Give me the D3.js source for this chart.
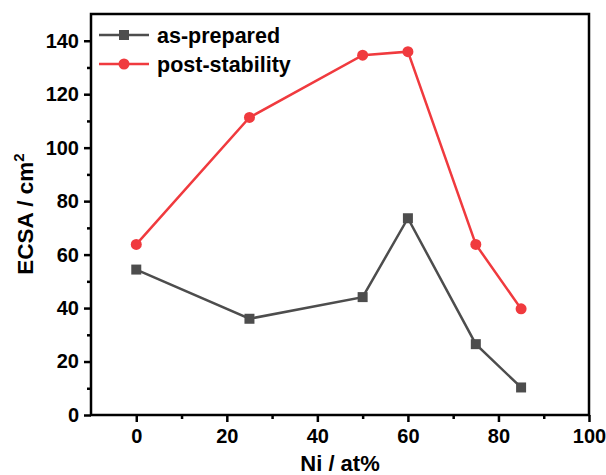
<!DOCTYPE html>
<html>
<head>
<meta charset="utf-8">
<script src="https://cdn.jsdelivr.net/npm/d3@7"></script>
<style>
  body { margin: 0; background: #fff; }
  svg { display: block; font-family: "Liberation Sans", Arial, sans-serif; font-weight: bold; }
</style>
</head>
<body>
<div id="chart"></div>
<script>
// --- data ---
const niContent = [0, 25, 50, 60, 75, 85];
const asPrepared = [54.4, 36.0, 44.1, 73.6, 26.5, 10.3];
const postStability = [63.8, 111.3, 134.6, 135.9, 63.8, 39.7];
const xTicks = [0, 20, 40, 60, 80, 100];
const yTicks = [0, 20, 40, 60, 80, 100, 120, 140];

const W = 606, H = 475;
const margin = { top: 14, right: 17, bottom: 60, left: 91 };
const width = W - margin.left - margin.right;
const height = H - margin.top - margin.bottom;

const svg = d3.select("#chart").append("svg")
  .attr("width", W).attr("height", H);
const g = svg.append("g")
  .attr("transform", "translate(" + margin.left + "," + margin.top + ")");

const x = d3.scaleLinear().domain([-10, 100]).range([0, width]);
const y = d3.scaleLinear().domain([0, 150]).range([height, 0]);

// minor ticks first, major on top
g.append("g")
  .attr("transform", "translate(0," + height + ")")
  .call(d3.axisBottom(x).tickValues(d3.range(10, 100, 20)).tickSize(4).tickFormat(""))
  .call(a => a.select(".domain").remove())
  .selectAll("line").attr("stroke-width", 2.5);
g.append("g")
  .call(d3.axisLeft(y).tickValues(d3.range(10, 150, 20)).tickSize(4).tickFormat(""))
  .call(a => a.select(".domain").remove())
  .selectAll("line").attr("stroke-width", 2.5);

const xAxis = g.append("g")
  .attr("transform", "translate(0," + height + ")")
  .call(d3.axisBottom(x).tickValues(xTicks).tickSize(7).tickPadding(7));
xAxis.select(".domain").remove();
xAxis.selectAll("line").attr("stroke-width", 2.5);
xAxis.selectAll("text").attr("font-size", 20).attr("font-family", "Liberation Sans, Arial, sans-serif").attr("font-weight", "bold").attr("fill", "#000");

const yAxis = g.append("g")
  .call(d3.axisLeft(y).tickValues(yTicks).tickSize(7).tickPadding(5));
yAxis.select(".domain").remove();
yAxis.selectAll("line").attr("stroke-width", 2.5);
yAxis.selectAll("text").attr("font-size", 20).attr("font-family", "Liberation Sans, Arial, sans-serif").attr("font-weight", "bold").attr("fill", "#000");

// frame
g.append("rect")
  .attr("x", 0).attr("y", 0).attr("width", width).attr("height", height)
  .attr("fill", "none").attr("stroke", "#000").attr("stroke-width", 2.5);

const series = [
  { name: "as-prepared", values: asPrepared, color: "#4d4d4d", shape: "square" },
  { name: "post-stability", values: postStability, color: "#f03a3e", shape: "circle" }
];

const line = d3.line().x(d => x(d[0])).y(d => y(d[1]));

series.forEach(s => {
  const pts = niContent.map((n, i) => [n, s.values[i]]);
  g.append("path").datum(pts)
    .attr("fill", "none").attr("stroke", s.color).attr("stroke-width", 2.5)
    .attr("d", line);
  if (s.shape === "square") {
    g.selectAll(null).data(pts).enter().append("rect")
      .attr("x", d => x(d[0]) - 5).attr("y", d => y(d[1]) - 5)
      .attr("width", 10).attr("height", 10).attr("fill", s.color);
  } else {
    g.selectAll(null).data(pts).enter().append("circle")
      .attr("cx", d => x(d[0])).attr("cy", d => y(d[1])).attr("r", 5.5)
      .attr("fill", s.color);
  }
});

// legend
const legend = svg.append("g");
series.forEach((s, i) => {
  const ly = 35 + i * 29;
  legend.append("line")
    .attr("x1", 99).attr("x2", 149).attr("y1", ly).attr("y2", ly)
    .attr("stroke", s.color).attr("stroke-width", 2.5);
  if (s.shape === "square") {
    legend.append("rect").attr("x", 119).attr("y", ly - 5).attr("width", 10).attr("height", 10).attr("fill", s.color);
  } else {
    legend.append("circle").attr("cx", 124).attr("cy", ly).attr("r", 5.5).attr("fill", s.color);
  }
  legend.append("text")
    .attr("x", 157).attr("y", ly).attr("dy", "0.35em")
    .attr("font-size", 21.5).attr("fill", "#000")
    .text(s.name);
});

// axis titles
svg.append("text")
  .attr("x", 340).attr("y", 471)
  .attr("text-anchor", "middle").attr("font-size", 22)
  .text("Ni / at%");

const yt = svg.append("text")
  .attr("transform", "translate(33,214) rotate(-90)")
  .attr("text-anchor", "middle").attr("font-size", 22.5);
yt.append("tspan").text("ECSA / cm");
yt.append("tspan").attr("dy", -9).attr("font-size", 15).text("2");
</script>
</body>
</html>
